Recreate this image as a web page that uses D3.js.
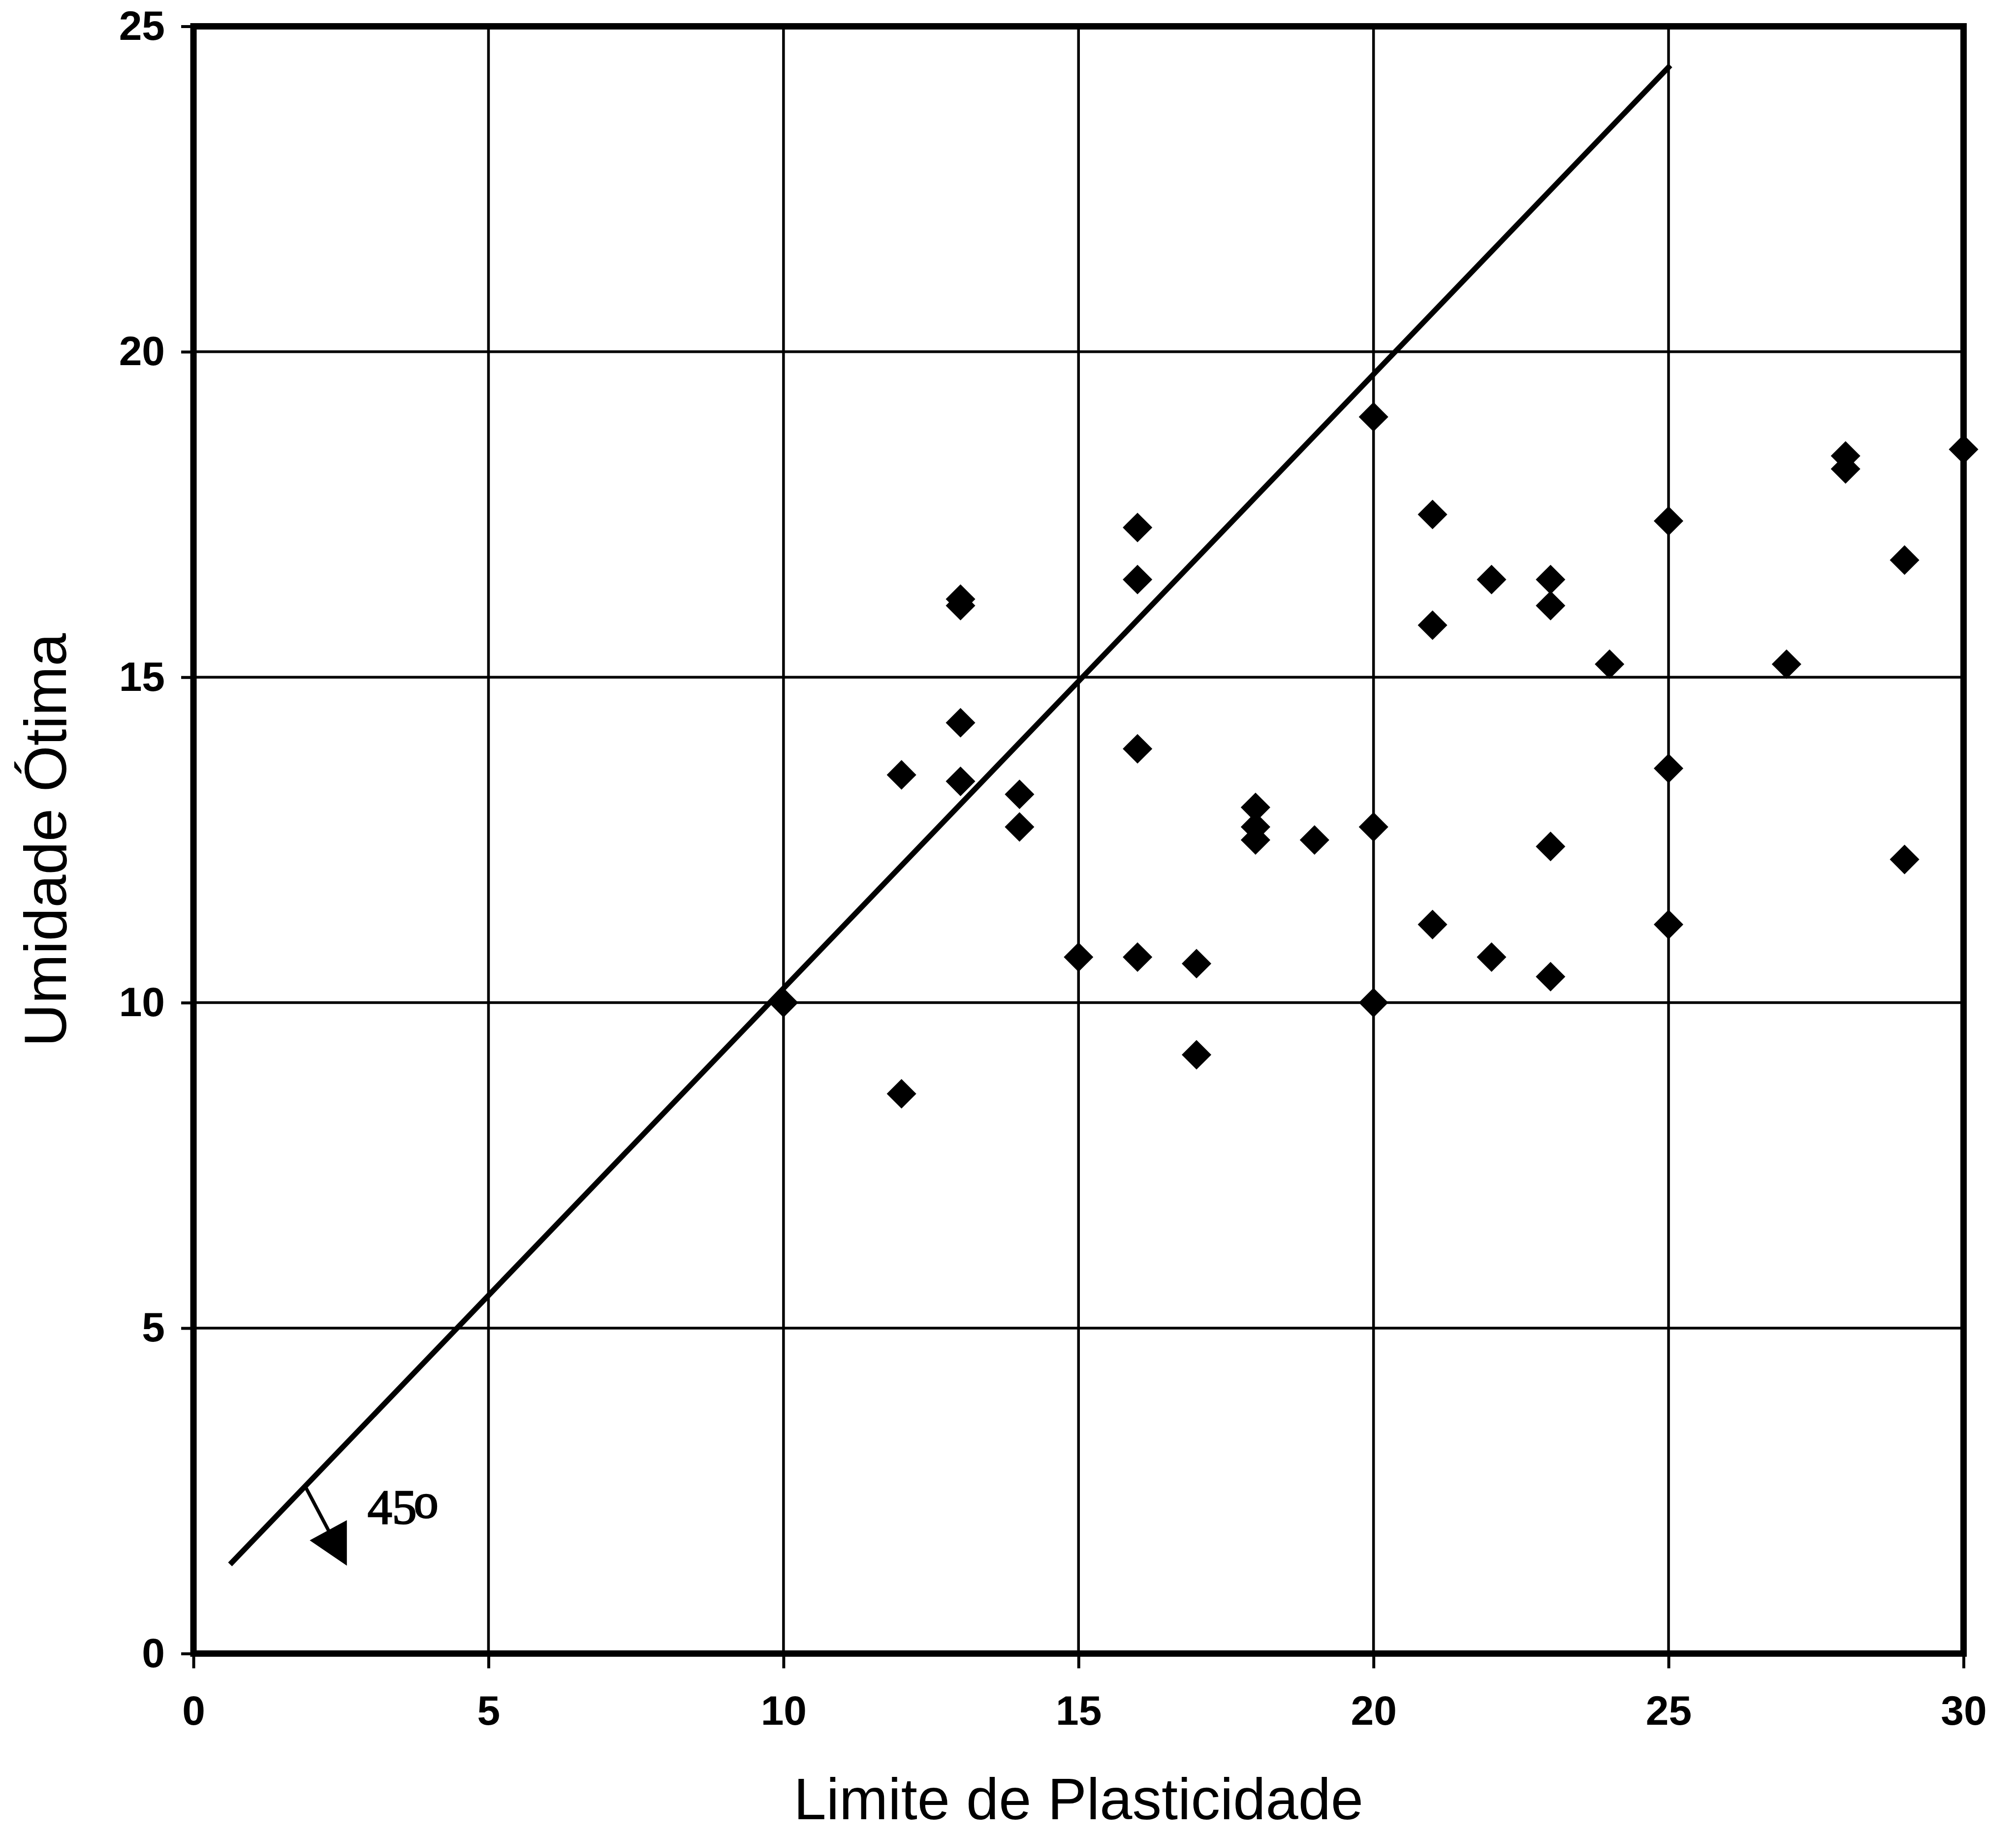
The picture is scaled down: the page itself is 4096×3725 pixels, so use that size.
<!DOCTYPE html>
<html>
<head>
<meta charset="utf-8">
<script src="https://cdn.jsdelivr.net/npm/d3@7"></script>
<style>
  body { margin: 0; background: #fff; }
  text { font-family: "Liberation Sans", Arial, sans-serif; }
</style>
</head>
<body>
<div class="canvas"></div>
<script>
/* ----------- DATA ----------- */
// limite de plasticidade (x) and umidade otima (y)
const lpValues = [10, 12, 12, 13, 13, 13, 13, 14, 14, 15, 16, 16, 16, 16, 17, 17, 18, 18, 18, 19, 20,
    20, 20, 21, 21, 21, 22, 22, 23, 23, 23, 23, 24, 25, 25, 25, 27, 28, 28, 29, 29, 30];
const umidadeValues = [10.0, 13.5, 8.6, 16.2, 16.1, 14.3, 13.4, 13.2, 12.7, 10.7, 17.3, 16.5, 13.9, 10.7, 10.6, 9.2, 13.0,
    12.7, 12.5, 12.5, 19.0, 12.7, 10.0, 17.5, 15.8, 11.2, 16.5, 10.7, 16.5, 16.1, 12.4, 10.4, 15.2, 17.4, 13.6, 11.2,
    15.2, 18.4, 18.2, 16.8, 12.2, 18.5];

const xTicks = [0, 5, 10, 15, 20, 25, 30];
const yTicks = [0, 5, 10, 15, 20, 25];

// the hand drawn 45 degree line and its arrow
const lineX = [0.62, 25.03];
const lineY = [1.37, 24.40];
const arrowShaft = [[1.905, 2.55], [2.29, 1.89]];
const arrowHead = [[1.97, 1.74], [2.60, 2.05], [2.60, 1.35]];

const xTitle = 'Limite de Plasticidade';
const yTitle = 'Umidade Ótima';

/* ----------- CONTAINER & GRAPH ----------- */
const width = 4096;
const height = 3725;
const k = 0.849;

const svg = d3.select('.canvas')
    .append('svg')
    .attr('width', width)
    .attr('height', height)
    .style('display', 'block');

svg.append('rect')
    .attr('width', width)
    .attr('height', height)
    .attr('fill', '#fff');

const margin = { top: 63 * k, right: width - 4699 * k, bottom: height - 3958 * k, left: 463 * k };
const graphWidth = width - margin.left - margin.right;
const graphHeight = height - margin.top - margin.bottom;

const graph = svg.append('g')
    .attr('transform', `translate(${margin.left},${margin.top})`);

/* ----------- SCALES & AXES ------------- */
const x = d3.scaleLinear().domain([0, 30]).range([0, graphWidth]);
const y = d3.scaleLinear().domain([0, 25]).range([graphHeight, 0]);

// grid lines
graph.append('g')
    .selectAll('line')
    .data(xTicks.slice(1, -1))
    .enter()
    .append('line')
    .attr('x1', d => x(d)).attr('x2', d => x(d))
    .attr('y1', 0).attr('y2', graphHeight)
    .attr('stroke', '#000')
    .attr('stroke-width', 5.5);

graph.append('g')
    .selectAll('line')
    .data(yTicks.slice(1, -1))
    .enter()
    .append('line')
    .attr('x1', 0).attr('x2', graphWidth)
    .attr('y1', d => y(d)).attr('y2', d => y(d))
    .attr('stroke', '#000')
    .attr('stroke-width', 5.5);

const xAxis = d3.axisBottom(x)
    .tickValues(xTicks)
    .tickSize(30)
    .tickPadding(55)
    .tickFormat(d3.format('d'));
const yAxis = d3.axisLeft(y)
    .tickValues(yTicks)
    .tickSize(25)
    .tickPadding(33)
    .tickFormat(d3.format('d'));

const xAxisGroup = graph.append('g')
    .attr('transform', `translate(0,${graphHeight})`)
    .call(xAxis);
const yAxisGroup = graph.append('g').call(yAxis);

[xAxisGroup, yAxisGroup].forEach(g => {
    g.select('.domain').remove();
    g.selectAll('.tick line').attr('stroke', '#000').attr('stroke-width', 6);
    g.selectAll('.tick text')
        .attr('fill', '#000')
        .style('font-family', '"Liberation Sans", Arial, sans-serif')
        .style('font-size', '84px')
        .style('font-weight', 'bold');
});

// plot frame
graph.append('rect')
    .attr('width', graphWidth)
    .attr('height', graphHeight)
    .attr('fill', 'none')
    .attr('stroke', '#000')
    .attr('stroke-width', 13);

/* ----------- 45 DEGREE LINE ----------- */
graph.append('line')
    .attr('x1', x(lineX[0])).attr('y1', y(lineY[0]))
    .attr('x2', x(lineX[1])).attr('y2', y(lineY[1]))
    .attr('stroke', '#000')
    .attr('stroke-width', 11);

graph.append('path')
    .attr('d', d3.line().x(d => x(d[0])).y(d => y(d[1]))(arrowShaft))
    .attr('stroke', '#000')
    .attr('stroke-width', 7)
    .attr('fill', 'none');

graph.append('path')
    .attr('d', d3.line().x(d => x(d[0])).y(d => y(d[1]))(arrowHead) + 'Z')
    .attr('fill', '#000');

// "45o" label, the o standing in for a degree sign
const angleLabel = graph.append('text')
    .attr('x', x(2.95))
    .attr('y', y(2.0))
    .style('font-family', '"Liberation Serif", "Times New Roman", serif')
    .style('font-size', '100px')
    .attr('fill', '#000')
    .attr('stroke', '#000')
    .attr('stroke-width', 2.5);
angleLabel.append('tspan').text('45');
angleLabel.append('tspan').attr('dx', -6).attr('dy', -12).text('o');

/* ----------- POINTS ----------- */
const points = lpValues.map((v, i) => ({ lp: v, w: umidadeValues[i] }));
const diamondType = d3.symbolDiamond2 || d3.symbolSquare;
const diamond = d3.symbol().type(diamondType).size(diamondType === d3.symbolSquare ? 1800 : 2300);

graph.selectAll('path.pt')
    .data(points)
    .enter()
    .append('path')
    .attr('class', 'pt')
    .attr('d', diamond)
    .attr('transform', d => `translate(${x(d.lp)},${y(d.w)})` + (diamondType === d3.symbolSquare ? ' rotate(45)' : ''))
    .attr('fill', '#000');

/* ----------- TITLES ----------- */
svg.append('text')
    .attr('x', margin.left + graphWidth / 2)
    .attr('y', 3697)
    .attr('text-anchor', 'middle')
    .style('font-size', '119px')
    .attr('fill', '#000')
    .text(xTitle);

svg.append('text')
    .attr('transform', `translate(${158 * k},${margin.top + graphHeight / 2}) rotate(-90)`)
    .attr('text-anchor', 'middle')
    .style('font-size', '121px')
    .attr('fill', '#000')
    .text(yTitle);
</script>
</body>
</html>
